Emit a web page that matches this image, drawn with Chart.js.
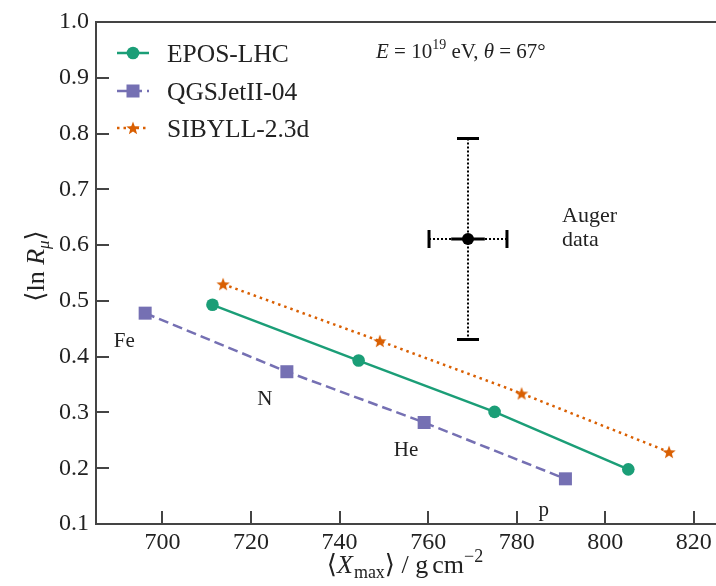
<!DOCTYPE html>
<html>
<head>
<meta charset="utf-8">
<script src="https://cdn.jsdelivr.net/npm/chart.js@4.4.1/dist/chart.umd.min.js"></script>
<style>
  html, body { margin: 0; padding: 0; background: #fff; }
  canvas { display: block; }
</style>
</head>
<body>
<canvas id="c" width="716" height="586"></canvas>
<script>
// ---------- data ----------
const compositions = ['Fe', 'N', 'He', 'p'];
const eposX = [711.3, 744.3, 775.0, 805.2];
const eposY = [0.493, 0.393, 0.301, 0.198];
const qgsX  = [696.1, 728.1, 759.1, 791.0];
const qgsY  = [0.478, 0.373, 0.282, 0.181];
const sibX  = [713.7, 749.1, 781.1, 814.4];
const sibY  = [0.530, 0.428, 0.334, 0.229];
const augerX = [769.0];
const augerY = [0.611];
const augerXerrSys  = [8.8];
const augerXerrStat = [3.8];
const augerYerr     = [0.18];
const xTicks = [700, 720, 740, 760, 780, 800, 820];
const yTicks = [0.1, 0.2, 0.3, 0.4, 0.5, 0.6, 0.7, 0.8, 0.9, 1.0];
const seriesNames = ['EPOS-LHC', 'QGSJetII-04', 'SIBYLL-2.3d'];

// ---------- styling ----------
const SERIF = "'Liberation Serif', 'DejaVu Serif', serif";
const TXT = '#222';
const AX = '#444';
const C_EPOS = '#1b9e77', C_QGS = '#7570b3', C_SIB = '#d95f02';

function makeStar(color, R, r) {
  const s = Math.ceil(R * 2 + 2);
  const cv = document.createElement('canvas');
  cv.width = s; cv.height = s;
  const g = cv.getContext('2d');
  g.fillStyle = color;
  g.beginPath();
  for (let i = 0; i < 10; i++) {
    const rad = i % 2 === 0 ? R : r;
    const a = -Math.PI / 2 + i * Math.PI / 5;
    const px = s / 2 + rad * Math.cos(a), py = s / 2 + rad * Math.sin(a) + 0.6;
    if (i === 0) g.moveTo(px, py); else g.lineTo(px, py);
  }
  g.closePath(); g.fill();
  return cv;
}
const starImg = makeStar(C_SIB, 7, 3);

const zip = (xs, ys) => xs.map((x, i) => ({ x, y: ys[i] }));

Chart.defaults.font.family = SERIF;
Chart.defaults.color = TXT;

function rich(ctx, pieces, x, y, align) {
  let w = 0;
  pieces.forEach(p => {
    ctx.font = (p.italic ? 'italic ' : '') + p.size + 'px ' + SERIF;
    p.w = ctx.measureText(p.t).width;
    w += p.w + (p.gap || 0);
  });
  let cx = align === 'center' ? x - w / 2 : x;
  ctx.textBaseline = 'alphabetic';
  ctx.textAlign = 'left';
  pieces.forEach(p => {
    ctx.font = (p.italic ? 'italic ' : '') + p.size + 'px ' + SERIF;
    ctx.fillText(p.t, cx, y + (p.dy || 0));
    cx += p.w + (p.gap || 0);
  });
}

const decor = {
  id: 'decor',
  beforeDatasetsDraw(chart) {
    const { ctx, scales: { x, y } } = chart;
    ctx.save();
    ctx.strokeStyle = '#000';
    for (let i = 0; i < augerX.length; i++) {
      const px = x.getPixelForValue(augerX[i]);
      const py = y.getPixelForValue(augerY[i]);
      const yt = y.getPixelForValue(augerY[i] + augerYerr[i]);
      const yb = y.getPixelForValue(augerY[i] - augerYerr[i]);
      const xl = x.getPixelForValue(augerX[i] - augerXerrSys[i]);
      const xr = x.getPixelForValue(augerX[i] + augerXerrSys[i]);
      const sl = x.getPixelForValue(augerX[i] - augerXerrStat[i]);
      const sr = x.getPixelForValue(augerX[i] + augerXerrStat[i]);
      ctx.lineWidth = 2;
      ctx.setLineDash([2, 2]);
      ctx.beginPath();
      ctx.moveTo(px, yt); ctx.lineTo(px, yb);
      ctx.moveTo(xl, py); ctx.lineTo(xr, py);
      ctx.stroke();
      ctx.setLineDash([]);
      ctx.lineWidth = 3;
      ctx.beginPath();
      ctx.moveTo(sl, py); ctx.lineTo(sr, py);
      ctx.stroke();
      ctx.beginPath();
      ctx.moveTo(px - 11, yt); ctx.lineTo(px + 11, yt);
      ctx.moveTo(px - 11, yb); ctx.lineTo(px + 11, yb);
      ctx.moveTo(xl, py - 9); ctx.lineTo(xl, py + 9);
      ctx.moveTo(xr, py - 9); ctx.lineTo(xr, py + 9);
      ctx.stroke();
    }
    ctx.restore();
  },
  afterDraw(chart) {
    const { ctx, chartArea: ca, scales: { x, y } } = chart;
    ctx.save();
    ctx.strokeStyle = AX;
    ctx.lineWidth = 2;
    ctx.beginPath();
    ctx.moveTo(ca.left, ca.top); ctx.lineTo(chart.width, ca.top);
    ctx.stroke();
    ctx.beginPath();
    xTicks.forEach(v => {
      const p = Math.round(x.getPixelForValue(v));
      ctx.moveTo(p, ca.bottom); ctx.lineTo(p, ca.bottom - 13);
    });
    yTicks.forEach(v => {
      const p = Math.round(y.getPixelForValue(v));
      ctx.moveTo(ca.left, p); ctx.lineTo(ca.left + 13, p);
    });
    ctx.stroke();

    ctx.fillStyle = TXT;
    rich(ctx, [
      { t: '⟨', size: 26 },
      { t: 'X', size: 26, italic: true, gap: 1 },
      { t: 'max', size: 18, dy: 5 },
      { t: '⟩ / g', size: 26, gap: 4 },
      { t: 'cm', size: 26 },
      { t: '−2', size: 18, dy: -11 }
    ], 405, 573, 'center');

    ctx.save();
    ctx.translate(44, 266);
    ctx.rotate(-Math.PI / 2);
    rich(ctx, [
      { t: '⟨ln ', size: 26 },
      { t: 'R', size: 26, italic: true },
      { t: 'μ', size: 17, italic: true, dy: 5 },
      { t: '⟩', size: 26 }
    ], 0, 0, 'center');
    ctx.restore();

    rich(ctx, [
      { t: 'E', size: 21, italic: true },
      { t: ' = 10', size: 21 },
      { t: '19', size: 14, dy: -9 },
      { t: ' eV, ', size: 21 },
      { t: 'θ', size: 21, italic: true },
      { t: ' = 67°', size: 21 }
    ], 376, 58, 'left');

    ctx.font = '22px ' + SERIF;
    ctx.textAlign = 'left';
    ctx.textBaseline = 'alphabetic';
    ctx.fillText('Auger', 562, 222);
    ctx.fillText('data', 562, 246);

    const compAnchors = [[691.4, 0.417], [723.1, 0.313], [755.0, 0.222], [786.1, 0.115]];
    ctx.font = '21px ' + SERIF;
    ctx.textAlign = 'center';
    compositions.forEach((c, i) => {
      ctx.fillText(c, x.getPixelForValue(compAnchors[i][0]), y.getPixelForValue(compAnchors[i][1]));
    });

    const rows = [53, 91, 128];
    chart.data.datasets.slice(0, 3).forEach((ds, i) => {
      const ry = rows[i];
      ctx.save();
      ctx.strokeStyle = ds.borderColor;
      ctx.lineWidth = ds.borderWidth;
      ctx.setLineDash(ds.borderDash || []);
      ctx.beginPath();
      ctx.moveTo(117, ry); ctx.lineTo(149, ry);
      ctx.stroke();
      ctx.restore();
      ctx.fillStyle = ds.pointBackgroundColor;
      if (ds.pointStyle === 'circle') {
        ctx.beginPath(); ctx.arc(133, ry, 6.3, 0, Math.PI * 2); ctx.fill();
      } else if (ds.pointStyle === 'rect') {
        ctx.fillRect(133 - 6.5, ry - 6.5, 13, 13);
      } else {
        ctx.drawImage(ds.pointStyle, 133 - ds.pointStyle.width / 2, ry - ds.pointStyle.height / 2);
      }
      ctx.fillStyle = TXT;
      ctx.font = '25.5px ' + SERIF;
      ctx.textAlign = 'left';
      ctx.textBaseline = 'alphabetic';
      ctx.fillText(ds.label, 167, ry + 9);
    });
    ctx.restore();
  }
};

new Chart(document.getElementById('c'), {
  type: 'scatter',
  data: {
    datasets: [
      {
        label: seriesNames[0], data: zip(eposX, eposY), showLine: true,
        borderColor: C_EPOS, borderWidth: 2.5, pointStyle: 'circle',
        pointRadius: 6.3, pointBackgroundColor: C_EPOS, pointBorderWidth: 0
      },
      {
        label: seriesNames[1], data: zip(qgsX, qgsY), showLine: true,
        borderColor: C_QGS, borderWidth: 2.5, borderDash: [10, 5], pointStyle: 'rect',
        pointRadius: 9.2, pointBackgroundColor: C_QGS, pointBorderWidth: 0
      },
      {
        label: seriesNames[2], data: zip(sibX, sibY), showLine: true,
        borderColor: C_SIB, borderWidth: 2.5, borderDash: [2.5, 4], pointStyle: starImg,
        pointRadius: 7, pointBackgroundColor: C_SIB, pointBorderWidth: 0
      },
      {
        label: 'Auger data', data: zip(augerX, augerY), showLine: false,
        pointStyle: 'circle', pointRadius: 6, pointBackgroundColor: '#000',
        pointBorderWidth: 0
      }
    ]
  },
  options: {
    responsive: false,
    animation: false,
    devicePixelRatio: 1,
    layout: { autoPadding: false, padding: { top: 22, right: 0, left: 0, bottom: 0 } },
    plugins: { legend: { display: false }, tooltip: { enabled: false } },
    scales: {
      x: {
        type: 'linear', min: 685, max: 825,
        afterBuildTicks: s => { s.ticks = xTicks.map(v => ({ value: v })); },
        afterFit: s => { s.height = 62; s.paddingRight = 0; s.paddingLeft = 0; },
        ticks: { font: { size: 24, family: SERIF }, color: TXT, padding: 4, maxRotation: 0, autoSkip: false },
        grid: { display: false, drawTicks: false },
        border: { display: true, color: AX, width: 2 }
      },
      y: {
        type: 'linear', min: 0.1, max: 1.0,
        afterBuildTicks: s => { s.ticks = yTicks.map(v => ({ value: v })); },
        afterFit: s => { s.width = 96; s.paddingTop = 0; s.paddingBottom = 0; },
        ticks: { font: { size: 24, family: SERIF }, color: TXT, padding: 7, callback: v => v.toFixed(1), autoSkip: false },
        grid: { display: false, drawTicks: false },
        border: { display: true, color: AX, width: 2 }
      }
    }
  },
  plugins: [decor]
});
</script>
</body>
</html>
